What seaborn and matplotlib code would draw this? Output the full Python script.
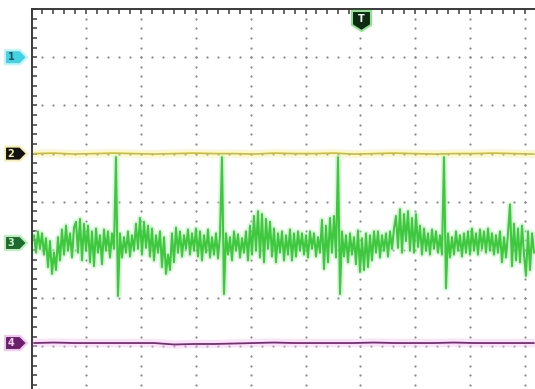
import numpy as np
import pandas as pd
import matplotlib
matplotlib.use("Agg")
import matplotlib.pyplot as plt
import seaborn as sns
from matplotlib.patches import Polygon

MV_PER_DIV = 50            # vertical scale of every channel
CH1_OFFSET = 3.0           # channel baselines, divisions (top border = +4)
CH2_OFFSET = 1.0
CH3_OFFSET = -0.855
CH4_OFFSET = -2.93

# channel 3 (green) samples, mV around its baseline
ch3_mv = [
    8, -10, 12, -6, 10, -12,
    5, -25, 2, -32, -10, -28, 6, -18,
    14, -12, 18, -8, 10, -15, 16,
    22, -10, 25, -18, 20, -8, 18, -20,
    12, -24, 15, -10, 8, -22, 14,
    -8, 12, -15, 10, -6,
    89, -55,
    10, -15, 6, -10, 12, -14, 8, -8,
    20, -6, 26, -12, 22, -5, 18, -14,
    15, -18, 8, -10, 12,
    -25, 6, -32, -12, -28, 10, -20,
    16, -10, 12, -14, 8, -6, 14, -12, 10, -8, 15, -14,
    12, -18, 8, -10, 14, -15, 6, -12, 10, -16, 8,
    89, -53,
    10, -12, 6, -18, 12, -8, 9, -15, 5, -10, 12, -18,
    18, -12, 28, -8, 33, -15, 30, -20, 25, -6, 22,
    -14, 15, -20, 10, -10, 12, -18, 8, -12, 14,
    -18, 10, -14, 12, -8,
    10, -12, 8, -15, 12, -6, 10, -14, 6, -10,
    24, -27, 18, -20, 26,
    -10, 28,
    -15, 89, -53,
    12, -14, 8, -20, 10, -12, 6,
    -22, 13, -30, 5, -28, 10, -25, 8, -18, 12,
    -10, 12, -15, 8, -8, 10, -14, 12, -6, 15,
    28, -5, 35, -10, 30, 2, 33, -8, 26, -10, 30, -4, 18,
    -12, 15, -8, 10, -12, 14, -6, 12, -10, 8, -12,
    89, -47,
    10, -15, 6, -12, 12, -8, 8, -14, 10, -10, 12,
    -12, 15, -8, 10, -12, 14, -6, 12, -10, 15, -8, 10, -12, 8, -10,
    12, -20, 6, -15, 10,
    40, -24,
    20, -18, 15, -20, 18, -12,
    -34, 12, -28,
    10, -10,
]
# channel 2 (yellow) and channel 4 (purple), coarse samples, mV
ch2_mv = [0, 0.5, -0.5, 0, 0.5, 0, -0.5, 0, 0.5, 0, 0, -0.5, 0.5, 0, 0, 0.5, -0.5, 0, 0.5, 0, -0.5, 0, 0, 0.5, 0, -0.5]
ch4_mv = [0, 0.5, 0, 0, 0, 0, 0, -1.5, -1, -1, -0.5, 0, 0.5, 0, 0, 0, 0, 0.5, 0, 0, 0, 0.5, 0, 0, 0, 0]

channel_labels = ["1", "2", "3", "4"]
trigger_label = "T"

# ---------------- geometry ----------------
W, H, DPI = 535, 389, 100
X_DIV_PX = 54.8
Y_DIV_PX = 48.2
LEFT_PX, TOP_PX = 31.5, 9.0
X_MAX = (W - LEFT_PX) / X_DIV_PX
Y_TOP = 4.0
Y_BOT = Y_TOP - (H - TOP_PX) / Y_DIV_PX

t_start = (34 - LEFT_PX) / X_DIV_PX
t3 = t_start + np.arange(len(ch3_mv)) * (2 / X_DIV_PX)
t24 = t_start + np.arange(len(ch2_mv)) * (20 / X_DIV_PX)

df3 = pd.DataFrame({"t": t3, "v": np.array(ch3_mv) / MV_PER_DIV + CH3_OFFSET})
df2 = pd.DataFrame({"t": t24, "v": np.array(ch2_mv) / MV_PER_DIV + CH2_OFFSET})
df4 = pd.DataFrame({"t": t24, "v": np.array(ch4_mv) / MV_PER_DIV + CH4_OFFSET})

sns.set_style("white")
fig = plt.figure(figsize=(W / DPI, H / DPI), dpi=DPI)
ax = fig.add_axes([LEFT_PX / W, 0, 1 - LEFT_PX / W, (H - TOP_PX) / H])
ax.set_xlim(0, X_MAX)
ax.set_ylim(Y_BOT, Y_TOP)

# dotted graticule
grid_c = "#8a8a8a"
xs = np.arange(1, 47) * 0.2
for gy in [3, 2, 1, 0, -1, -2, -3]:
    ax.plot(xs, np.full_like(xs, gy), ls="none", marker="o", ms=1.6,
            mec="none", mfc=grid_c, zorder=1)
ys = Y_TOP - np.arange(1, 40) * 0.2
for gx in range(1, 10):
    ax.plot(np.full_like(ys, gx), ys, ls="none", marker="o", ms=1.6,
            mec="none", mfc=grid_c, zorder=1)

# traces
sns.lineplot(data=df2, x="t", y="v", ax=ax, color="#f0ea90", lw=6, alpha=0.35,
             estimator=None, sort=False, zorder=2)
sns.lineplot(data=df2, x="t", y="v", ax=ax, color="#c9bf2a", lw=1.2,
             estimator=None, sort=False, zorder=3)
sns.lineplot(data=df4, x="t", y="v", ax=ax, color="#f2c6ef", lw=6, alpha=0.45,
             estimator=None, sort=False, zorder=2)
sns.lineplot(data=df4, x="t", y="v", ax=ax, color="#7a2a78", lw=1.3,
             estimator=None, sort=False, zorder=3)
sns.lineplot(data=df3, x="t", y="v", ax=ax, color="#b9f0b9", lw=4.0, alpha=0.5,
             estimator=None, sort=False, zorder=2)
sns.lineplot(data=df3, x="t", y="v", ax=ax, color="#3ec83e", lw=1.5,
             estimator=None, sort=False, zorder=4)

# frame and ticks
for s in ["right", "bottom"]:
    ax.spines[s].set_visible(False)
for s in ["left", "top"]:
    ax.spines[s].set_color("#3a3a3a")
    ax.spines[s].set_linewidth(1.4)
ax.xaxis.set_ticks_position("top")
ax.yaxis.set_ticks_position("left")
ax.set_xticks(np.arange(0, X_MAX, 0.2))
ax.set_yticks(np.arange(Y_TOP, Y_BOT, -0.2))
ax.tick_params(axis="both", direction="in", length=3.6, width=1.1,
               color="#3a3a3a", labelleft=False, labeltop=False,
               labelbottom=False, labelright=False)
ax.set_xlabel("")
ax.set_ylabel("")
if ax.get_legend():
    ax.get_legend().remove()


def px(x, y):
    return (x / W, 1 - y / H)


def div_to_px_y(v):
    return TOP_PX + (Y_TOP - v) * Y_DIV_PX


tag_styles = [
    (CH1_OFFSET, "#3fd3e3", "#1d4f5c", "#bff3f8"),
    (CH2_OFFSET, "#111111", "#f4ee9a", "#f6f1b0"),
    (CH3_OFFSET, "#1f6b2f", "#c9f5c9", "#bdf0bd"),
    (CH4_OFFSET, "#6a1f6a", "#f4d2f2", "#f0c8ee"),
]
for lab, (off, fc, tc, gc) in zip(channel_labels, tag_styles):
    yc = div_to_px_y(off)
    pts = [px(5, yc - 7), px(20, yc - 7), px(27, yc), px(20, yc + 7), px(5, yc + 7)]
    fig.patches.append(Polygon(pts, closed=True, transform=fig.transFigure,
                               fc=fc, ec=gc, lw=1.5, zorder=5))
    fig.text(*px(11, yc), lab, ha="center", va="center", fontsize=7,
             fontweight="bold", color=tc, family="DejaVu Sans", zorder=6)

# trigger marker
tpts = [px(352, 11), px(371, 11), px(371, 25), px(361.5, 31), px(352, 25)]
fig.patches.append(Polygon(tpts, closed=True, transform=fig.transFigure,
                           fc="#0d2b12", ec="#8fe38f", lw=1.5, zorder=5))
fig.text(*px(361.5, 19.5), trigger_label, ha="center", va="center", fontsize=7,
         fontweight="bold", color="white", family="DejaVu Sans", zorder=6)

fig.savefig("out.png", dpi=DPI)
